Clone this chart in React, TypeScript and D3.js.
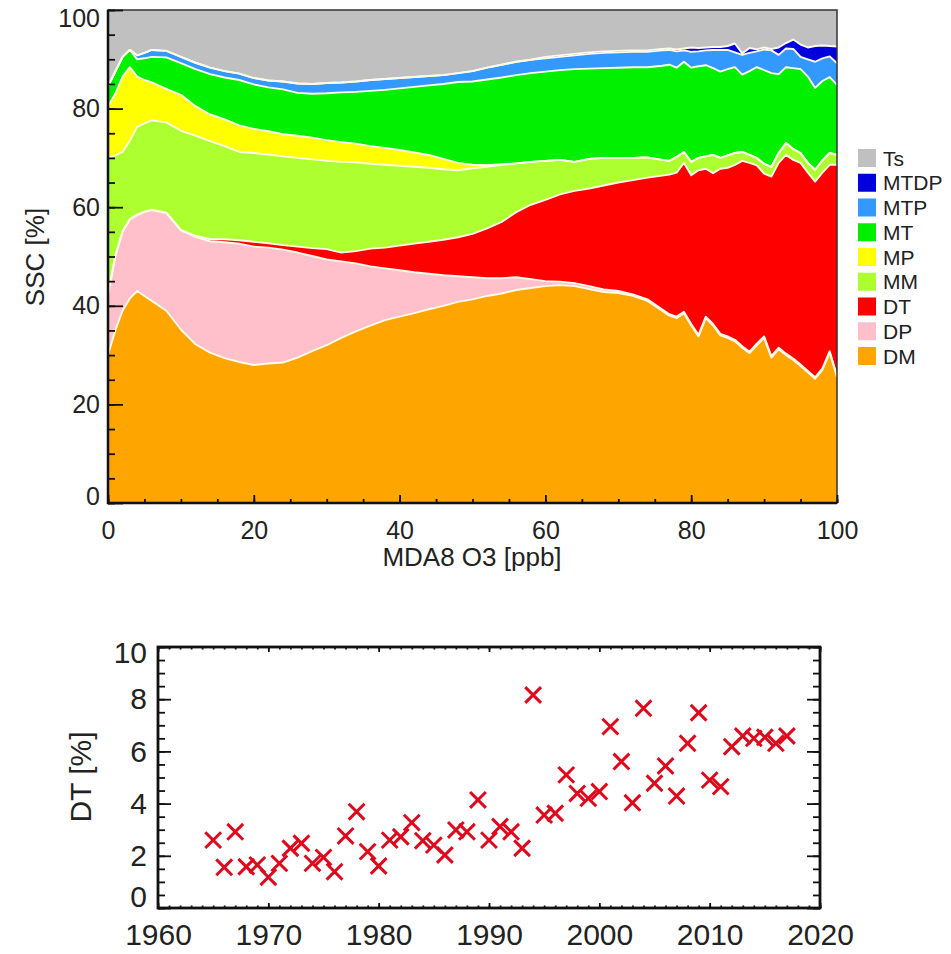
import React, { useEffect, useRef } from "react";
import * as d3 from "d3";

// MDA8 O3 bins [ppb]
const ozone = [
  0, 1, 2, 3, 4, 5, 6,
  8, 10, 12, 14, 16, 18, 20, 22, 24, 26, 28, 30, 32, 34, 36, 38, 40, 42, 44, 46,
  48, 50, 52, 54, 56, 58, 60, 62, 64, 66, 68, 70, 72, 74, 76,
  77, 78, 79, 80, 81, 82, 83, 84, 85, 86, 87, 88, 89, 90, 91, 92, 93, 94, 95, 96, 97, 98, 99, 100,
];

// upper edge of each stacked SSC layer [%]
const dmTop = [
  30, 35, 39, 41.5, 43, 42, 41,
  39, 35.2, 32.2, 30.5, 29.4, 28.6, 28, 28.3, 28.5, 29.5, 30.8, 32, 33.5, 34.8, 36, 37.1, 37.8, 38.5, 39.3, 40,
  40.8, 41.3, 42, 42.5, 43.2, 43.6, 44, 44.2, 44, 43.4, 42.8, 42.6, 42, 41, 39,
  38, 37.5, 38.5, 36, 33.8, 37.5, 36, 34, 33.5, 32.8, 31.5, 30.4, 32, 33.5, 29.5, 31.2, 30, 29, 27.8, 26.5, 25.2, 27, 30.5, 25.5,
];
const dpTop = [
  42, 50, 55, 57.5, 58.4, 59, 59.4,
  58.8, 55.3, 54, 53.1, 52.9, 52.6, 52, 51.8, 51.4, 50.8, 50.1, 49.4, 49, 48.6, 48, 47.6, 47.2, 46.8, 46.5, 46.2,
  46, 45.8, 45.6, 45.6, 45.8, 45.4, 45, 44.9, 44.6, 44, 43.3, 43, 42.3, 41.3, 39.3,
  38.3, 37.8, 38.8, 36.3, 34.1, 37.8, 36.3, 34.3, 33.8, 33.1, 31.8, 30.7, 32.3, 33.8, 29.8, 31.5, 30.3, 29.3, 28.1, 26.8, 25.5, 27.3, 30.8, 25.8,
];
const dtTop = [
  42.5, 50.1, 55.1, 57.6, 58.5, 59.1, 59.5,
  58.9, 55.4, 54.2, 53.5, 53.5, 53.3, 53, 52.7, 52.3, 52, 51.7, 51.5, 50.8, 51.1, 51.6, 51.8, 52.2, 52.6, 53, 53.4,
  53.9, 54.6, 55.7, 57, 59, 60.5, 61.5, 62.6, 63.3, 63.8, 64.4, 65, 65.5, 66, 66.4,
  66.6, 67, 69, 66.5, 67.5, 67.8, 66.9, 67.8, 68, 68.6, 69.4, 69, 68.5, 66.8, 66.2, 69, 70.6, 69.6, 69, 67, 65.2, 67, 68.6, 68.6,
];
const mmTop = [
  70, 70.5, 71.2, 73.5, 76.3, 77, 77.6,
  77.2, 75.5, 74.5, 73.4, 72.4, 71.2, 71, 70.7, 70.3, 70, 69.7, 69.4, 69.2, 69.1, 68.8, 68.6, 68.4, 68.2, 68, 67.7,
  67.5, 67.9, 68.2, 68.6, 68.9, 69.2, 69.4, 69.6, 69.2, 69.8, 70, 70, 70, 70.1, 69.6,
  69.4, 70.2, 71.2, 69.2, 70, 70.3, 70.6, 70, 70.5, 71, 71.2, 70.6, 70, 68.8, 68.2, 71, 73, 71.8, 71, 69, 67.6, 69.5, 71, 70.6,
];
const mpTop = [
  80.5, 83, 86.5, 88.4, 86.5, 85.8, 85.3,
  84, 82.8, 80.5, 78.8, 77.8, 76.6, 75.9, 75.4, 74.8, 74.5, 74.1, 73.6, 73.2, 72.9, 72.4, 72, 71.6, 71.1, 70.6, 69.8,
  69, 68.6, 68.5, 68.7, 68.9, 69.2, 69.4, 69.6, 69.2, 69.8, 70, 70, 70, 70.1, 69.6,
  69.4, 70.2, 71.2, 69.2, 70, 70.3, 70.6, 70, 70.5, 71, 71.2, 70.6, 70, 68.8, 68.2, 71, 73, 71.8, 71, 69, 67.6, 69.5, 71, 70.6,
];
const mtTop = [
  84.5, 87.5, 90.5, 91.9, 90, 90.2, 90.5,
  90.4, 89.2, 88, 87, 86.3, 85.8, 84.9, 84.3, 83.9, 83.2, 83, 83.1, 83.3, 83.4, 83.6, 83.8, 84.1, 84.4, 84.7, 85,
  85.4, 85.5, 85.9, 86.3, 86.8, 87.2, 87.5, 87.8, 88, 88.1, 88.2, 88.3, 88.4, 88.4, 88.7,
  88.9, 88.3, 89.5, 88.3, 88.6, 88.8, 88.2, 87.5, 88, 88.4, 86.9, 87.6, 88.4, 87.8, 87.2, 87, 88.4, 88.2, 88, 86.5, 84.2, 85.6, 86.4, 84.8,
];
const mtpTop = [
  84.5, 87.5, 90.5, 91.9, 90.8, 91.3, 91.9,
  91.7, 90.5, 89.3, 88.3, 87.6, 87.1, 86.2, 85.7, 85.5, 85.1, 85, 85.2, 85.3, 85.5, 85.8, 86, 86.2, 86.4, 86.6, 86.8,
  87.2, 87.6, 88.3, 88.9, 89.5, 89.9, 90.2, 90.5, 90.8, 91.1, 91.3, 91.4, 91.5, 91.5, 91.8,
  91.9, 91.6, 91.8, 91.5, 91.6, 91.8, 91.9, 91.9, 91.9, 91.4, 90.9, 91.3, 91.6, 92, 91.8, 90.9, 92.2, 92.1, 90.5, 90, 89.5, 90.2, 90.6, 89.2,
];
const mtdpTop = [
  84.5, 87.5, 90.5, 91.9, 90.8, 91.3, 91.9,
  91.7, 90.5, 89.3, 88.3, 87.6, 87.1, 86.2, 85.7, 85.5, 85.1, 85, 85.2, 85.3, 85.5, 85.8, 86, 86.2, 86.4, 86.6, 86.8,
  87.2, 87.6, 88.3, 88.9, 89.5, 89.9, 90.5, 90.8, 91.1, 91.4, 91.6, 91.7, 91.8, 91.8, 92.1,
  92.2, 92, 92.2, 92.4, 92.3, 92.4, 92.5, 92.5, 92.7, 93.2, 91.2, 92.3, 92, 92.4, 92.1, 92.4, 93.3, 94, 93, 92.4, 92.7, 92.8, 92.7, 92.6,
];

const layerNames = ["DM", "DP", "DT", "MM", "MP", "MT", "MTP", "MTDP", "Ts"];
const layerColors = ["#ffa500", "#ffc0cb", "#ff0000", "#adff2f", "#ffff00", "#00f000", "#3399ff", "#0000dd", "#c0c0c0"];
const legendOrder = ["Ts", "MTDP", "MTP", "MT", "MP", "MM", "DT", "DP", "DM"];

// yearly DT frequency [%]
const years = [
  1965, 1966, 1967, 1968, 1969, 1970, 1971, 1972, 1973, 1974,
  1975, 1976, 1977, 1978, 1979, 1980, 1981, 1982, 1983, 1984,
  1985, 1986, 1987, 1988, 1989, 1990, 1991, 1992, 1993, 1994,
  1995, 1996, 1997, 1998, 1999, 2000, 2001, 2002, 2003, 2004,
  2005, 2006, 2007, 2008, 2009, 2010, 2011, 2012, 2013, 2014,
  2015, 2016, 2017,
];
const dtShare = [
  2.6, 1.56, 2.92, 1.58, 1.65, 1.18, 1.71, 2.29, 2.48, 1.71,
  1.94, 1.39, 2.76, 3.69, 2.16, 1.61, 2.6, 2.73, 3.27, 2.58,
  2.41, 2.03, 2.99, 2.92, 4.14, 2.6, 3.12, 2.92, 2.29, 8.16,
  3.56, 3.63, 5.1, 4.39, 4.2, 4.46, 6.95, 5.61, 4.03, 7.65,
  4.78, 5.44, 4.29, 6.31, 7.48, 4.9, 4.65, 6.18, 6.59, 6.5,
  6.54, 6.31, 6.59,
];

const FONT = "'Liberation Sans', Arial, Helvetica, sans-serif";
const TEXT = "#222";

const App = () => {
  const svgRef = useRef<SVGSVGElement>(null);

  useEffect(() => {
    const svg = d3.select(svgRef.current);
    svg.selectAll("*").remove();

    // ---------- top panel ----------
    const x = d3.scaleLinear().domain([0, 100]).range([108, 837]);
    const y = d3.scaleLinear().domain([0, 100]).range([503, 10]);

    // turn the layer edges into shares and restack them with d3.stack
    const edges = [dmTop, dpTop, dtTop, mmTop, mpTop, mtTop, mtpTop, mtdpTop];
    const rows = ozone.map((o, i) => {
      const row: any = { o };
      let prev = 0;
      edges.forEach((e, k) => {
        row[layerNames[k]] = Math.max(0, e[i] - prev);
        prev = Math.max(prev, e[i]);
      });
      row.Ts = 100 - prev;
      return row;
    });
    const series = d3.stack<any>().keys(layerNames)(rows);

    const area = d3
      .area<any>()
      .x((d) => x(d.data.o))
      .y0((d) => y(d[0]))
      .y1((d) => y(d[1]));

    const edgeLine = d3
      .line<any>()
      .x((d) => x(d.data.o))
      .y((d) => y(d[1]));

    const top = svg.append("g");
    top
      .selectAll("path.layer")
      .data(series)
      .join("path")
      .attr("class", "layer")
      .attr("fill", (d, i) => layerColors[i])
      .attr("d", area);

    top
      .selectAll("path.edge")
      .data(series.slice(0, 8))
      .join("path")
      .attr("class", "edge")
      .attr("fill", "none")
      .attr("stroke", "#fffbe8")
      .attr("stroke-width", 1.9)
      .attr("stroke-linejoin", "round")
      .attr("d", edgeLine);

    // frame
    svg
      .append("rect")
      .attr("x", 108)
      .attr("y", 10)
      .attr("width", 729)
      .attr("height", 493)
      .attr("fill", "none")
      .attr("stroke", "#333")
      .attr("stroke-width", 1.5);
    svg
      .append("path")
      .attr("d", "M108,10V503H837")
      .attr("fill", "none")
      .attr("stroke", "#111")
      .attr("stroke-width", 2.5);

    const styleAxis = (g: any, fs: number) => {
      g.select(".domain").remove();
      g.selectAll("line").attr("stroke", "#111").attr("stroke-width", 1.8);
      g.selectAll("text").attr("font-size", fs).attr("font-family", FONT).attr("fill", TEXT);
    };

    // y axis
    const yMinor = svg
      .append("g")
      .attr("transform", "translate(108,0)")
      .call(d3.axisLeft(y).ticks(20).tickSize(-7).tickFormat(() => ""));
    styleAxis(yMinor, 25);
    const yMajor = svg
      .append("g")
      .attr("transform", "translate(108,0)")
      .call(d3.axisLeft(y).ticks(5).tickSize(-15).tickPadding(8));
    styleAxis(yMajor, 25);
    yMajor
      .selectAll("text")
      .attr("dy", (d: any) => (d === 0 ? "0.04em" : d === 100 ? "0.66em" : "0.32em"));

    // x axis
    const xMinor = svg
      .append("g")
      .attr("transform", "translate(0,503)")
      .call(d3.axisBottom(x).ticks(20).tickSize(-4).tickFormat(() => ""));
    styleAxis(xMinor, 25);
    const xMajor = svg
      .append("g")
      .attr("transform", "translate(0,503)")
      .call(d3.axisBottom(x).ticks(5).tickSize(-8).tickPadding(18));
    styleAxis(xMajor, 25);

    svg
      .append("text")
      .attr("transform", "translate(44,257) rotate(-90)")
      .attr("text-anchor", "middle")
      .attr("font-size", 26)
      .attr("font-family", FONT)
      .attr("fill", TEXT)
      .text("SSC [%]");

    svg
      .append("text")
      .attr("x", 472)
      .attr("y", 566)
      .attr("text-anchor", "middle")
      .attr("font-size", 26)
      .attr("font-family", FONT)
      .attr("fill", TEXT)
      .text("MDA8 O3 [ppb]");

    // legend
    const legend = svg
      .append("g")
      .selectAll("g")
      .data(legendOrder)
      .join("g")
      .attr("transform", (d, i) => `translate(858,${158 + i * 24.75})`);
    legend
      .append("rect")
      .attr("x", 0)
      .attr("y", -9)
      .attr("width", 18)
      .attr("height", 18)
      .attr("fill", (d) => layerColors[layerNames.indexOf(d)]);
    legend
      .append("text")
      .attr("x", 25)
      .attr("dy", "0.36em")
      .attr("font-size", 21)
      .attr("font-family", FONT)
      .attr("fill", TEXT)
      .text((d) => d);

    // ---------- bottom panel ----------
    const bx = d3.scaleLinear().domain([1960, 2020]).range([158, 820]);
    const by = d3.scaleLinear().domain([0, 10]).range([908, 647]);

    svg
      .append("rect")
      .attr("x", 158)
      .attr("y", 647)
      .attr("width", 662)
      .attr("height", 261)
      .attr("fill", "#fff")
      .attr("stroke", "#111")
      .attr("stroke-width", 2.8);

    const byMinorL = svg
      .append("g")
      .attr("transform", "translate(158,0)")
      .call(d3.axisLeft(by).ticks(20).tickSize(-7).tickFormat(() => ""));
    styleAxis(byMinorL, 30);
    const byMinorR = svg
      .append("g")
      .attr("transform", "translate(820,0)")
      .call(d3.axisRight(by).ticks(20).tickSize(-7).tickFormat(() => ""));
    styleAxis(byMinorR, 30);
    const byMajorR = svg
      .append("g")
      .attr("transform", "translate(820,0)")
      .call(d3.axisRight(by).ticks(5).tickSize(-13).tickFormat(() => ""));
    styleAxis(byMajorR, 30);
    const byMajorL = svg
      .append("g")
      .attr("transform", "translate(158,0)")
      .call(d3.axisLeft(by).ticks(5).tickSize(-13).tickPadding(11));
    styleAxis(byMajorL, 30);
    byMajorL
      .selectAll("text")
      .attr("dy", (d: any) => (d === 0 ? "-0.05em" : d === 10 ? "0.52em" : "0.32em"));

    const bxMinorB = svg
      .append("g")
      .attr("transform", "translate(0,908)")
      .call(d3.axisBottom(bx).ticks(60).tickSize(-2.5).tickFormat(() => ""));
    styleAxis(bxMinorB, 30);
    const bxMinorT = svg
      .append("g")
      .attr("transform", "translate(0,647)")
      .call(d3.axisTop(bx).ticks(60).tickSize(-2.5).tickFormat(() => ""));
    styleAxis(bxMinorT, 30);
    const bxMajorT = svg
      .append("g")
      .attr("transform", "translate(0,647)")
      .call(d3.axisTop(bx).ticks(6).tickSize(-5).tickFormat(() => ""));
    styleAxis(bxMajorT, 30);
    const bxMajorB = svg
      .append("g")
      .attr("transform", "translate(0,908)")
      .call(d3.axisBottom(bx).ticks(6).tickSize(-5).tickPadding(16).tickFormat(d3.format("d")));
    styleAxis(bxMajorB, 30);

    svg
      .append("text")
      .attr("transform", "translate(91,777) rotate(-90)")
      .attr("text-anchor", "middle")
      .attr("font-size", 30)
      .attr("font-family", FONT)
      .attr("fill", TEXT)
      .text("DT [%]");

    const cross = d3.symbol().type(d3.symbolX).size(165);
    svg
      .append("g")
      .selectAll("path")
      .data(years)
      .join("path")
      .attr("transform", (d, i) => `translate(${bx(d)},${by(dtShare[i])})`)
      .attr("d", cross)
      .attr("fill", "none")
      .attr("stroke", "#dd0a1e")
      .attr("stroke-width", 3);
  }, []);

  return (
    <svg
      ref={svgRef}
      width={951}
      height={954}
      style={{ position: "absolute", left: 0, top: 0, background: "#fff" }}
    ></svg>
  );
};

export default App;
